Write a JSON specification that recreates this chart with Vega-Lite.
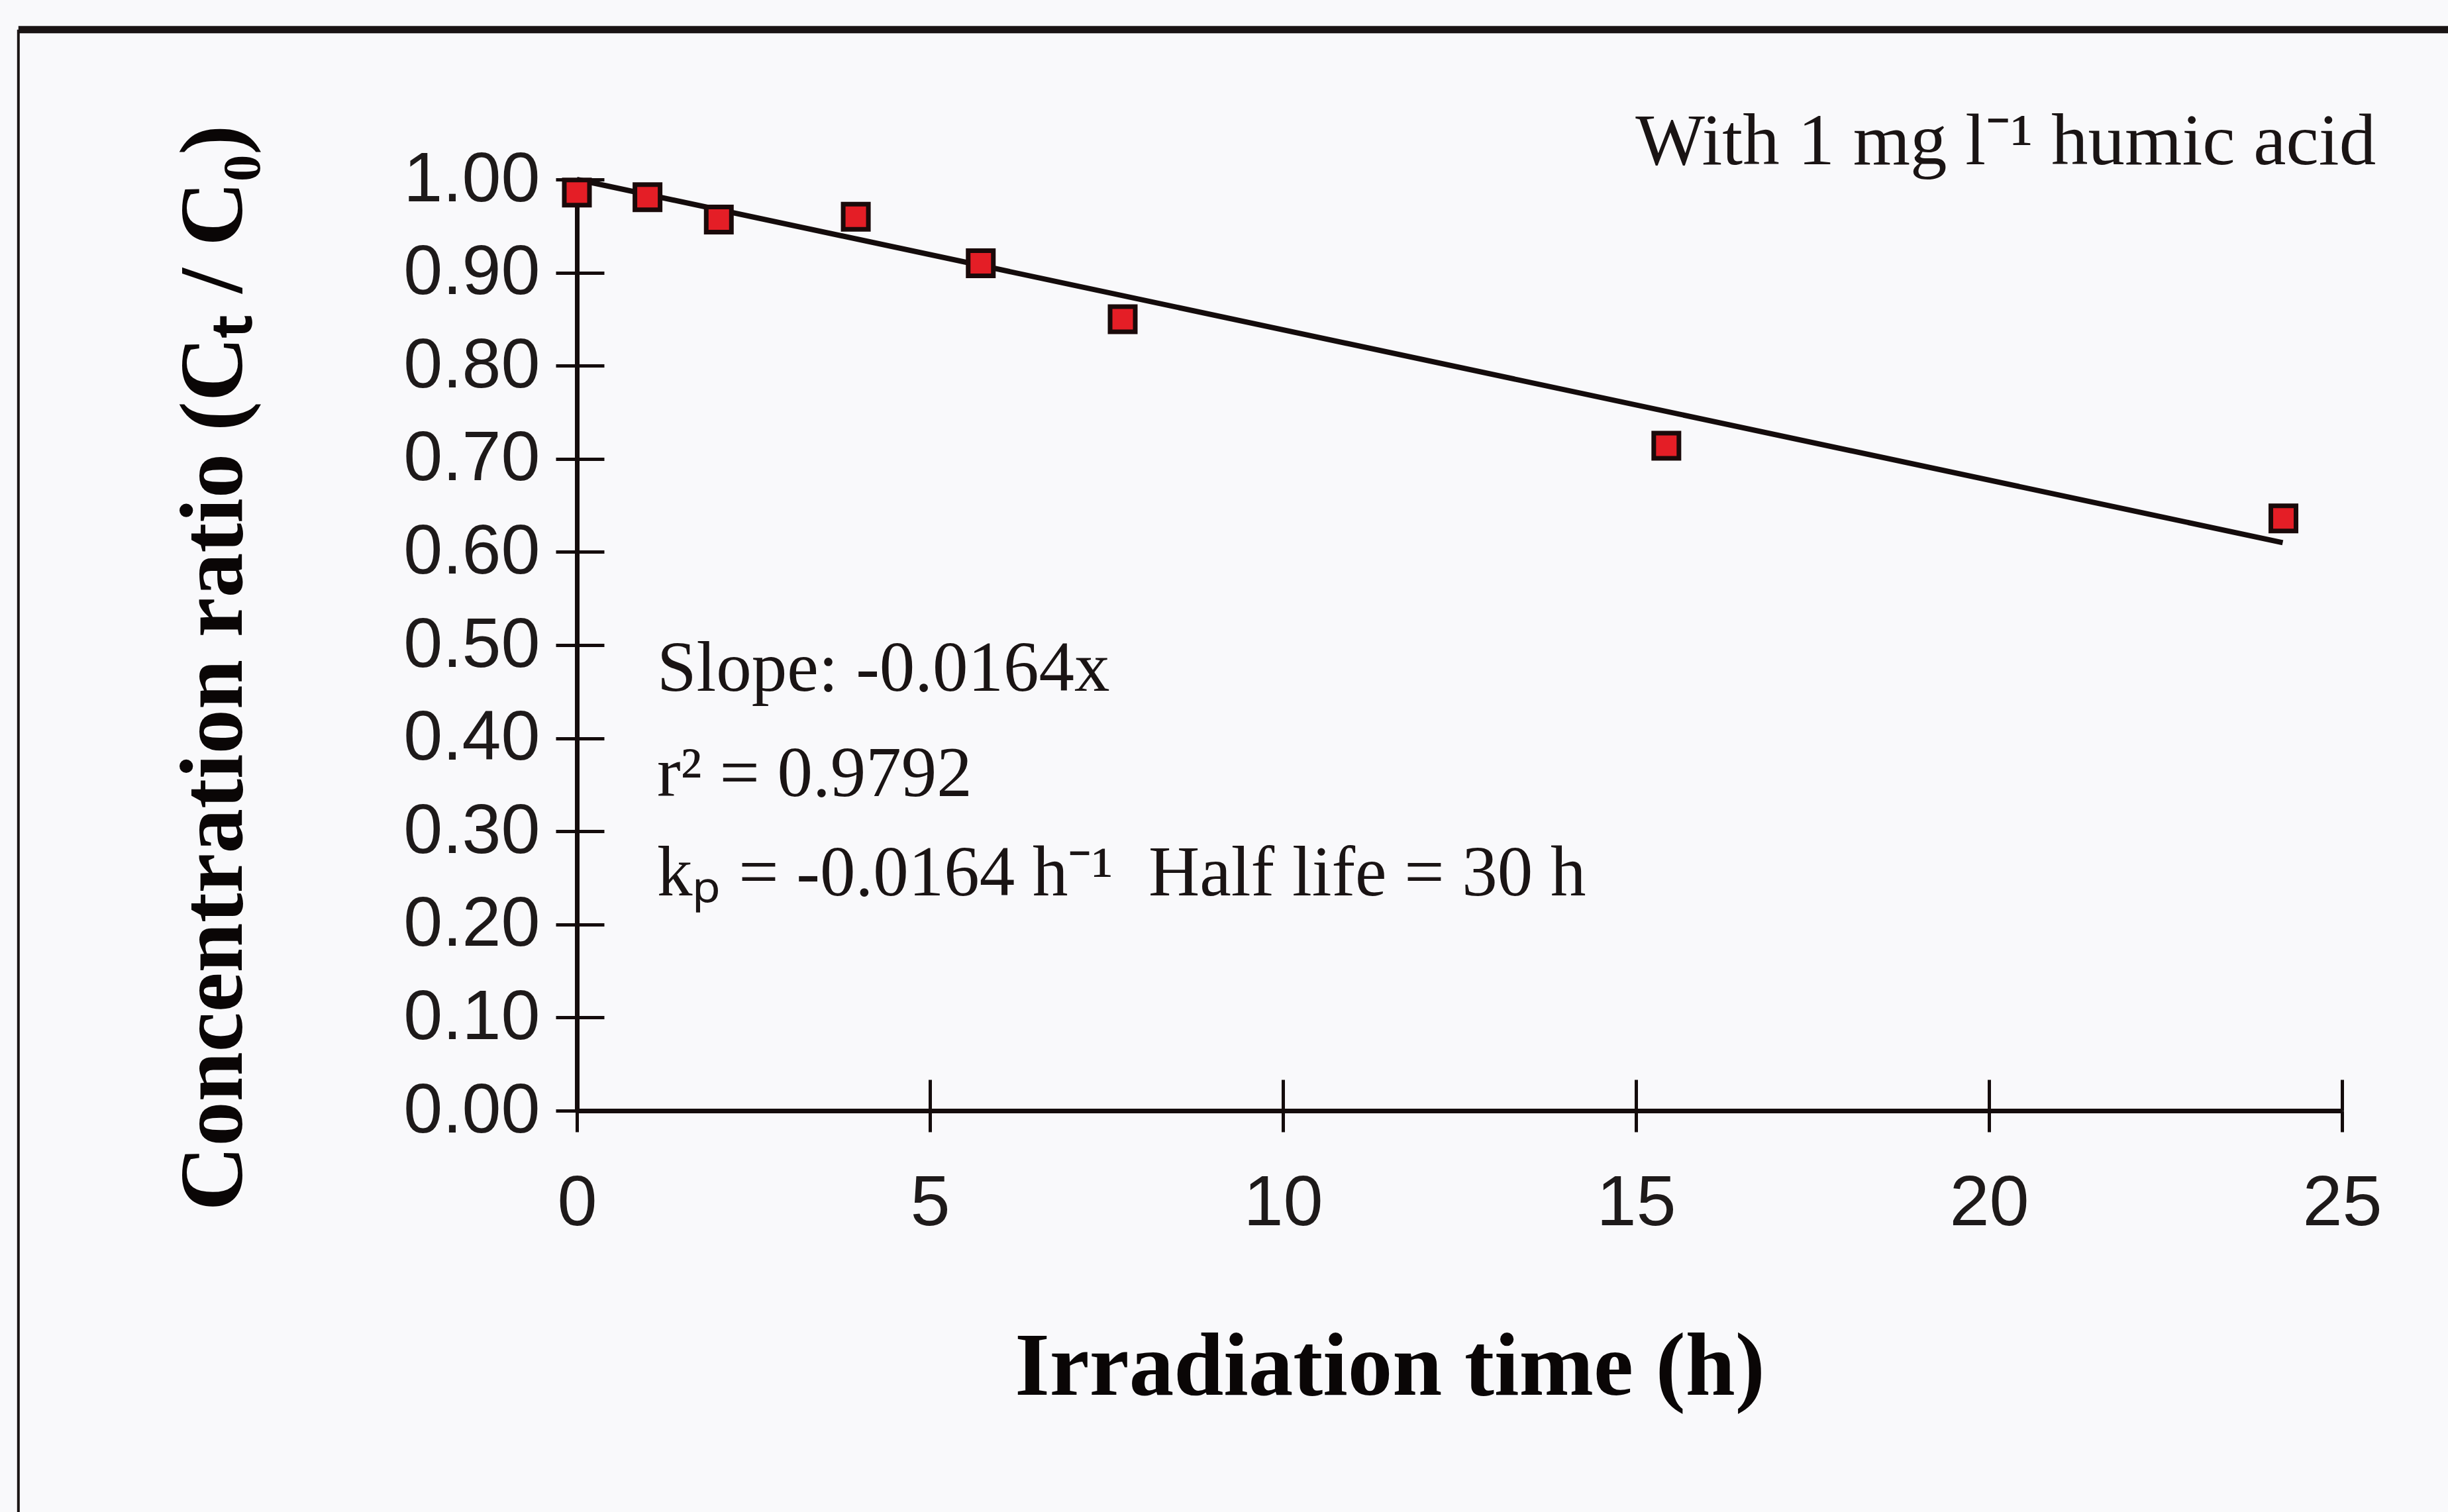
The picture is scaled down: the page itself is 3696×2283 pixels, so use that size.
{
  "$schema": "https://vega.github.io/schema/vega-lite/v6.json",
  "width": 2665,
  "height": 1406,
  "autosize": {"type": "none"},
  "padding": {"left": 871, "top": 271, "right": 160, "bottom": 606},
  "background": "#f9f9fb",
  "config": {"view": {"stroke": null}},
  "datasets": {
    "points": [
      {"t": 0, "ratio": 0.986},
      {"t": 1.0, "ratio": 0.981},
      {"t": 2.01, "ratio": 0.957},
      {"t": 3.95, "ratio": 0.960},
      {"t": 5.72, "ratio": 0.910},
      {"t": 7.73, "ratio": 0.850},
      {"t": 15.43, "ratio": 0.714},
      {"t": 24.17, "ratio": 0.636}
    ],
    "fit": [
      {"t": 0, "ratio": 1.0},
      {"t": 24.16, "ratio": 0.610}
    ],
    "notesLeft": [
      {"t": 1.135, "ratio": 0.451, "label": "Slope: -0.0164x"},
      {"t": 1.135, "ratio": 0.338, "label": "r² = 0.9792"},
      {"t": 1.135, "ratio": 0.231, "label": "kₚ = -0.0164 h⁻¹\u00a0\u00a0Half life = 30 h"}
    ],
    "notesRight": [
      {"t": 25.48, "ratio": 1.0164, "label": "With 1 mg l⁻¹ humic acid"}
    ],
    "frameTop": [{"t": -7.91, "t2": 27.5, "ratio": 1.161}],
    "frameLeft": [{"t": -7.91, "ratio": 1.161, "ratio2": -0.45}]
  },
  "layer": [
    {
      "data": {"name": "frameTop"},
      "mark": {"type": "rule", "color": "#1a1414", "strokeWidth": 11},
      "encoding": {
        "x": {"field": "t", "type": "quantitative", "scale": {"domain": [0, 25], "nice": false, "zero": false}, "axis": null},
        "x2": {"field": "t2"},
        "y": {"field": "ratio", "type": "quantitative", "scale": {"domain": [0, 1], "nice": false, "zero": false}, "axis": null}
      }
    },
    {
      "data": {"name": "frameLeft"},
      "mark": {"type": "rule", "color": "#1a1414", "strokeWidth": 4},
      "encoding": {
        "x": {"field": "t", "type": "quantitative", "axis": null},
        "y": {"field": "ratio", "type": "quantitative", "axis": null},
        "y2": {"field": "ratio2"}
      }
    },
    {
      "data": {"name": "fit"},
      "mark": {"type": "line", "color": "#140c0c", "strokeWidth": 8},
      "encoding": {
        "x": {
          "field": "t", "type": "quantitative",
          "axis": {
            "orient": "bottom",
            "title": "Irradiation time (h)",
            "values": [0, 5, 10, 15, 20, 25],
            "format": "d",
            "grid": false,
            "domainColor": "#140c0c", "domainWidth": 7,
            "tickColor": "#140c0c", "tickWidth": 5, "tickSize": 32,
            "labelFont": "Liberation Sans", "labelFontSize": 108, "labelColor": "#1e1a1a",
            "labelPadding": 55, "labelFlush": false, "labelOverlap": false, "labelLimit": 1000,
            "titleFont": "Liberation Serif", "titleFontWeight": "bold", "titleFontSize": 135, "titleColor": "#0a0606",
            "titleX": 1227, "titleY": 428, "titleAlign": "center", "titleBaseline": "alphabetic"
          }
        },
        "y": {
          "field": "ratio", "type": "quantitative",
          "axis": {
            "orient": "left",
            "title": "Concentration ratio (Cₜ / C₀)",
            "values": [0, 0.1, 0.2, 0.3, 0.4, 0.5, 0.6, 0.7, 0.8, 0.9, 1.0],
            "format": ".2f",
            "grid": false,
            "domainColor": "#140c0c", "domainWidth": 7,
            "tickColor": "#140c0c", "tickWidth": 5, "tickSize": 32,
            "labelFont": "Liberation Sans", "labelFontSize": 106, "labelColor": "#1e1a1a",
            "labelPadding": 24, "labelFlush": false, "labelOverlap": false, "labelLimit": 1000,
            "titleFont": "Liberation Serif", "titleFontWeight": "bold", "titleFontSize": 135, "titleColor": "#0a0606",
            "titleX": -507, "titleY": 737, "titleAlign": "center", "titleBaseline": "alphabetic", "titleAngle": -90
          }
        }
      }
    },
    {
      "data": {"name": "points"},
      "mark": {"type": "square", "fill": "#e41e26", "fillOpacity": 1, "stroke": "#1a0a0a", "strokeWidth": 7, "size": 1444},
      "encoding": {
        "x": {
          "field": "t", "type": "quantitative",
          "axis": {"orient": "bottom", "title": null, "labels": false, "domain": false, "grid": false,
                   "values": [0, 5, 10, 15, 20, 25], "tickColor": "#140c0c", "tickWidth": 5, "tickSize": -47}
        },
        "y": {
          "field": "ratio", "type": "quantitative",
          "axis": {"orient": "left", "title": null, "labels": false, "domain": false, "grid": false,
                   "values": [0, 0.1, 0.2, 0.3, 0.4, 0.5, 0.6, 0.7, 0.8, 0.9, 1.0], "tickColor": "#140c0c", "tickWidth": 5, "tickSize": -41}
        }
      }
    },
    {
      "data": {"name": "notesLeft"},
      "mark": {"type": "text", "align": "left", "baseline": "alphabetic", "font": "Liberation Serif", "fontSize": 107, "color": "#1a1414"},
      "encoding": {
        "x": {"field": "t", "type": "quantitative", "axis": null},
        "y": {"field": "ratio", "type": "quantitative", "axis": null},
        "text": {"field": "label"}
      }
    },
    {
      "data": {"name": "notesRight"},
      "mark": {"type": "text", "align": "right", "baseline": "alphabetic", "font": "Liberation Serif", "fontSize": 111, "color": "#1a1414"},
      "encoding": {
        "x": {"field": "t", "type": "quantitative", "axis": null},
        "y": {"field": "ratio", "type": "quantitative", "axis": null},
        "text": {"field": "label"}
      }
    }
  ],
  "resolve": {"axis": {"x": "independent", "y": "independent"}}
}
